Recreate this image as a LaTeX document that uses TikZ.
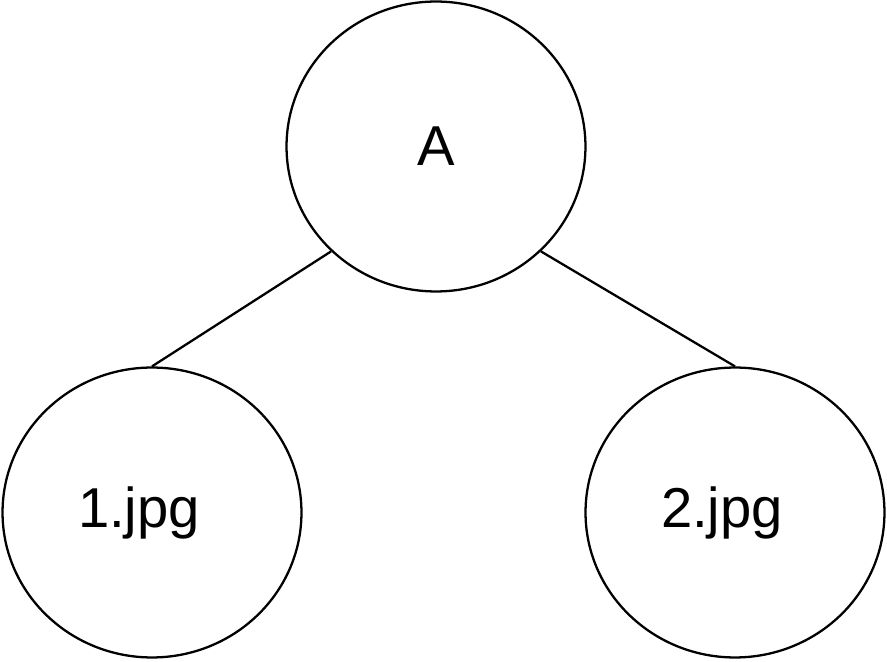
\documentclass[tikz,border=0pt]{standalone}
\usepackage{fontspec}
\setmainfont{Liberation Sans}
\usetikzlibrary{shapes.geometric}

\begin{document}
\begin{tikzpicture}[x=0.02cm, y=-0.02cm,
    bubble/.style={draw, ellipse, line width=1.3pt, inner sep=0pt,
        minimum width=5.98cm, minimum height=5.8cm, font=\fontsize{32}{38}\selectfont}]
    \useasboundingbox (0,0) rectangle (887,662);

    \node[bubble](A)at(436,146.5){A};
    \node[bubble](one)at(152,512.5){1.jpg\kern0.52cm};
    \node[bubble](two)at(735,512.5){2.jpg\kern0.52cm};

    \draw[line width=1.3pt](A.-135)--(one.north);
    \draw[line width=1.3pt](A.-45)--(two.north);
\end{tikzpicture}
\end{document}
